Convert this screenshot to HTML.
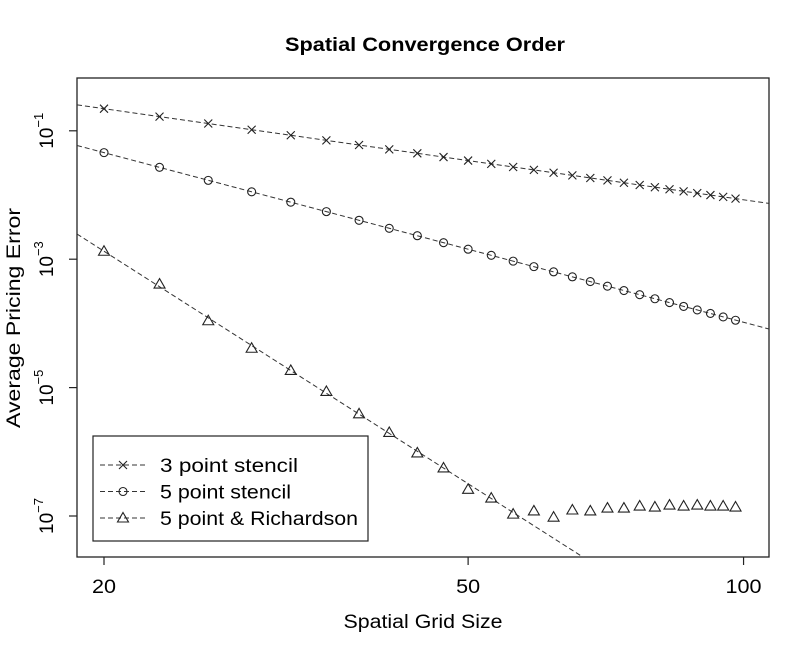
<!DOCTYPE html>
<html><head><meta charset="utf-8"><style>
html,body{margin:0;padding:0;background:#fff;}
svg{display:block;font-family:"Liberation Sans",Arial,sans-serif;}
</style></head><body>
<svg id="chart" width="809" height="654" viewBox="0 0 809 654">
<text x="425" y="51" text-anchor="middle" font-size="19" font-weight="bold" textLength="280" lengthAdjust="spacingAndGlyphs">Spatial Convergence Order</text>
<rect x="77" y="78" width="692" height="479" fill="none" stroke="#222" stroke-width="1.3"/>
<text x="423" y="628" text-anchor="middle" font-size="19" textLength="159" lengthAdjust="spacingAndGlyphs">Spatial Grid Size</text>
<text transform="translate(20,318) rotate(-90)" text-anchor="middle" font-size="19" textLength="220" lengthAdjust="spacingAndGlyphs">Average Pricing Error</text>
<g id="axes"></g>
<g id="series"></g>
<g>
<rect x="93" y="436" width="275" height="105" fill="#fff" stroke="#222" stroke-width="1.2"/>
<g id="legend"></g>
</g>
</svg>
<script>
const gridSizes=[20,23,26,29,32,35,38,41,44,47,50,53,56,59,62,65,68,71,74,77,80,83,86,89,92,95,98];
const err3pt=[0.221,0.166,0.130,0.104,0.0851,0.0710,0.0600,0.0514,0.0446,0.0390,0.0344,0.0305,0.0273,0.0246,0.0222,0.0202,0.0184,0.0169,0.0155,0.0143,0.0132,0.0123,0.0114,0.0107,0.00998,0.00934,0.00877];
const err5pt=[0.0457,0.0270,0.0169,0.0112,0.00774,0.00551,0.00404,0.00303,0.00232,0.00181,0.00143,0.00115,0.000933,0.000766,0.000635,0.000531,0.000448,0.000380,0.000325,0.000280,0.000242,0.000211,0.000184,0.000162,0.000143,0.000126,0.000112];
const errRich=[1.33e-3,4.1e-4,1.1e-4,4.1e-5,1.85e-5,8.7e-6,3.9e-6,2.0e-6,9.6e-7,5.6e-7,2.6e-7,1.9e-7,1.07e-7,1.2e-7,9.6e-8,1.24e-7,1.2e-7,1.33e-7,1.33e-7,1.43e-7,1.38e-7,1.48e-7,1.43e-7,1.48e-7,1.43e-7,1.43e-7,1.38e-7];
const fitAt20=[0.221,0.0457,1.33e-3];
const fitSlope=[-2.03,-3.78,-9.1];
const seriesNames=["3 point stencil","5 point stencil","5 point & Richardson"];
const legendWidths=[138,131,198];
const xTicks=[20,50,100];
const yTickExp=[-1,-3,-5,-7];

const NS="http://www.w3.org/2000/svg";
const L=77,R=769,T=78,B=557;
function xs(n){return 104+915*Math.log10(n/20);}
function ys(v){return 516-64.2*(Math.log10(v)+7);}
function mk(tag,attrs,parent){const e=document.createElementNS(NS,tag);for(const k in attrs)e.setAttribute(k,attrs[k]);parent.appendChild(e);return e;}
const axes=document.getElementById('axes');
xTicks.forEach(t=>{const x=xs(t);
 const l=mk('line',{x1:x,x2:x,y1:B,y2:B+8,stroke:'#222','stroke-width':1.2},axes);
 
 
 const tx=mk('text',{x:x,y:593,'text-anchor':'middle','font-size':19,textLength:String(t).length*12,lengthAdjust:'spacingAndGlyphs'},axes);tx.textContent=t;
 
 
});
yTickExp.forEach(e=>{const y=ys(Math.pow(10,e));
 const l=mk('line',{x1:L-8,x2:L,y1:y,y2:y,stroke:'#222','stroke-width':1.2},axes);
 
 
 const g=mk('text',{transform:`translate(53,${y}) rotate(-90)`,'text-anchor':'middle','font-size':19},axes);
 
 
 g.innerHTML=`10<tspan dy="-10" font-size="13">−${-e}</tspan>`;
});
function marker(type,x,y,parent){
 let m;
 if(type===0){m=mk('path',{d:`M${x-4},${y-4}L${x+4},${y+4}M${x-4},${y+4}L${x+4},${y-4}`,stroke:'#222','stroke-width':1.1,fill:'none'},parent);}
 else if(type===1){m=mk('circle',{cx:x,cy:y,r:4,stroke:'#222','stroke-width':1.1,fill:'none'},parent);}
 else {m=mk('path',{d:`M${x},${y-5.5}L${x+5.5},${y+4}L${x-5.5},${y+4}Z`,stroke:'#222','stroke-width':1.1,fill:'none'},parent);}
 return m;
}
const ser=document.getElementById('series');
const clip=mk('clipPath',{id:'pc'},ser);mk('rect',{x:L,y:T,width:R-L,height:B-T},clip);
[err3pt,err5pt,errRich].forEach((arr,si)=>{
 const g=mk('g',{},ser);
 
 
 const n0=Math.pow(10,(L-104)/915)*20, n1=Math.pow(10,(R-104)/915)*20;
 const f=n=>fitAt20[si]*Math.pow(n/20,fitSlope[si]);
 const fl=mk('line',{x1:L,y1:ys(f(n0)),x2:R,y2:ys(f(n1)),stroke:'#333','stroke-width':1,'stroke-dasharray':'5,3','clip-path':'url(#pc)'},g);
 
 
 arr.forEach((v,i)=>{const m=marker(si,xs(gridSizes[i]),ys(v),g);
  
  });
});
const lg=document.getElementById('legend');
seriesNames.forEach((s,i)=>{const y=465+i*26.5;
 const e=mk('g',{},lg);
 
 
 mk('line',{x1:100,x2:146,y1:y,y2:y,stroke:'#333','stroke-width':1,'stroke-dasharray':'5,3'},e);
 const m=marker(i,123,y,e);
 
 
 const t=mk('text',{x:160,y:y+7,'font-size':19,textLength:legendWidths[i],lengthAdjust:'spacingAndGlyphs'},e);t.textContent=s;
 
 
});
</script>
</body></html>
